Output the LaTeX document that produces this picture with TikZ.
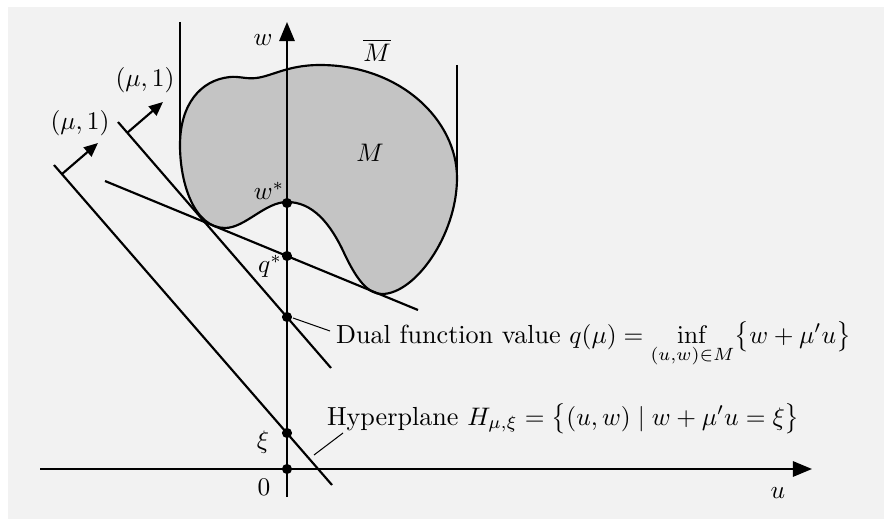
\documentclass[tikz,border=0pt]{standalone}
\usepackage{amsmath}
\usepackage{tikz}
\usetikzlibrary{arrows.meta}
\usepackage{xcolor}
\definecolor{panel}  {HTML}{F2F2F2}
\definecolor{setfill}{HTML}{C4C4C4}
\definecolor{ink}    {HTML}{000000}

\begin{document}
\begin{tikzpicture}[x=0.01385cm, y=-0.01385cm, line width=0.85pt,
    every node/.style={font=\fontsize{10.3}{12.4}\selectfont},
    dot/.style={circle, fill=ink, inner sep=0pt, minimum size=4pt},
    leader/.style={ink, line width=0.4pt},
    axisarrow/.style={-{Triangle[length=7.5pt,width=6pt]}},
    normalarrow/.style={-{Triangle[length=5.5pt,width=4.7pt]}}]
        % frame
        \useasboundingbox (0,0) rectangle (884,519);
        \fill[white] (0,0) rectangle (884,519);
        \fill[panel] (8,7) rectangle (884,519);
        % the set M
        \filldraw[fill=setfill, draw=ink] (180,145)
          .. controls (180,105) and (200,80) .. (230,77)
          .. controls (238,76.2) and (243,78.3) .. (252,78.3)
          .. controls (270,78) and (285,65) .. (320,65)
          .. controls (400,65) and (457,120) .. (457,178)
          .. controls (457,235) and (415,294) .. (382,294)
          .. controls (368,294) and (357,280) .. (345,255)
          .. controls (330,222) and (312,202) .. (287,202)
          .. controls (265,202) and (245,228) .. (225,228)
          .. controls (195,228) and (180,185) .. (180,145) -- cycle;
        % walls of the closure
        \coordinate (lwTop) at (180,22);  \coordinate (lwBot) at (180,145);
        \coordinate (rwTop) at (457,65);  \coordinate (rwBot) at (457,178);
        \draw[ink] (lwTop) -- (lwBot);
        \draw[ink] (rwTop) -- (rwBot);
        % axes
        \coordinate (uBeg) at (40,469);  \coordinate (uEnd) at (812,469);
        \coordinate (wBeg) at (287,497); \coordinate (wEnd) at (287,22);
        \draw[axisarrow, ink] (uBeg) -- (uEnd);
        \draw[axisarrow, ink] (wBeg) -- (wEnd);
        % hyperplanes
        \coordinate (hxiA) at (54,165);   \coordinate (hxiB) at (332,485);
        \coordinate (hqA)  at (118,122);  \coordinate (hqB)  at (331,368);
        \coordinate (tanA) at (105,181);  \coordinate (tanB) at (418,310);
        \draw[ink] (hxiA) -- (hxiB);
        \draw[ink] (hqA) -- (hqB);
        \draw[ink] (tanA) -- (tanB);
        % normal vectors
        \coordinate (nxiFoot) at (62,174);  \coordinate (nxiTip) at (98,143);
        \coordinate (nqFoot)  at (127,133); \coordinate (nqTip)  at (163,102);
        \draw[normalarrow, ink] (nxiFoot) -- (nxiTip);
        \draw[normalarrow, ink] (nqFoot) -- (nqTip);
        % points on the w axis
        \node[dot] (zero)  at (287,469) {};
        \node[dot] (xi)    at (287,433) {};
        \node[dot] (dual)  at (287,317) {};
        \node[dot] (qstar) at (287,256) {};
        \node[dot] (wstar) at (287,203) {};
        % labels
        \node (wlab)    at (263,40)  {$w$};
        \node (ulab)    at (778,493) {$u$};
        \node (Mbar)    at (377,50)  {$\overline{M}$};
        \node (Mlab)    at (370,153) {$M$};
        \node (wslab)   at (269,191) {$w^*$};
        \node (qslab)   at (270,266) {$q^*$};
        \node (xilab)   at (263,442) {$\xi$};
        \node (zerolab) at (264,487) {$0$};
        \node (mu1)     at (145,80)  {$(\mu,1)$};
        \node (mu2)     at (80,123)  {$(\mu,1)$};
        % annotations
        \node[anchor=base west, inner sep=0pt] (dualtxt) at (335,343)
          {Dual function value $q(\mu) = \inf\limits_{(u,w)\in M} \bigl\{w + \mu' u\bigr\}$};
        \node[anchor=base west, inner sep=0pt] (hyptxt) at (326,425)
          {Hyperplane $H_{\mu,\xi} = \bigl\{(u,w) \mid w + \mu' u = \xi\bigr\}$};
        \coordinate (dualFrom) at (293,318); \coordinate (dualTo) at (330,331);
        \coordinate (hypFrom)  at (314,455); \coordinate (hypTo)  at (343,433);
        \draw[leader] (dualFrom) -- (dualTo);
        \draw[leader] (hypFrom) -- (hypTo);
      \end{tikzpicture}
\end{document}
